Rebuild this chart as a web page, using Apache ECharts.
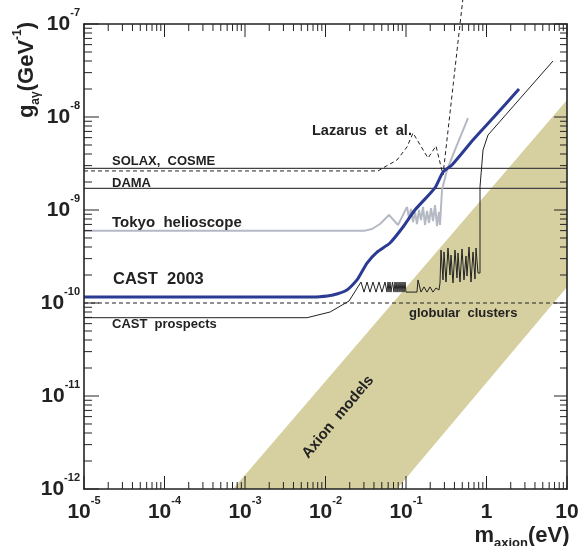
<!DOCTYPE html>
<html><head><meta charset="utf-8">
<script src="https://cdn.jsdelivr.net/npm/echarts@6/dist/echarts.min.js"></script>
<style>html,body{margin:0;padding:0;background:#fff}#c{width:586px;height:546px}</style>
</head><body><div id="c"></div>
<script>
// ---- axis ranges & ticks ----
const X_MIN = 1e-5, X_MAX = 10, Y_MIN = 1e-12, Y_MAX = 1e-7;
const xDecades = [1e-5, 1e-4, 1e-3, 1e-2, 1e-1, 1, 10];
const yDecades = [1e-12, 1e-11, 1e-10, 1e-9, 1e-8, 1e-7];
const minorMantissas = [2, 3, 4, 5, 6, 7, 8, 9];

// ---- limits (horizontal lines) ----
const solaxCosme = 2.8e-9;
const dama = 1.71e-9;
const globularClusters = 1.0e-10;

// ---- curves [m_axion (eV), g (GeV^-1)] ----
const lazarus = [[1e-5,2.63e-9],[0.045,2.63e-9],[0.0518,2.83e-9],[0.0773,3.45e-9],[0.1029,4.76e-9],[0.1222,6.73e-9],[0.1876,3.62e-9],[0.2359,4.88e-9],[0.2882,2.38e-9],[0.5135,2e-7]];
const tokyo = [[1e-5,6.0e-10],[0.031,6.0e-10],[0.0378,6.25e-10],[0.0475,7.07e-10],[0.0615,8.83e-10],[0.0796,6.9e-10],[0.1029,1.08e-9],[0.109,8.2e-10],[0.1154,1.025e-9],[0.1222,7.43e-10],[0.1294,9.52e-10],[0.1369,7.07e-10],[0.145,1.0e-9],[0.1536,7.81e-10],[0.1627,1.08e-9],[0.1722,6.9e-10],[0.1824,9.76e-10],[0.1931,7.25e-10],[0.2045,1.05e-9],[0.2165,7.61e-10],[0.2292,1.13e-9],[0.2427,6.73e-10],[0.257,9.52e-10],[0.2645,6.9e-10],[0.280,1.64e-9],[0.323,2.69e-9],[0.406,4.42e-9],[0.589,9.75e-9]];
const cast2003 = [[1e-5,1.16e-10],[0.0048,1.16e-10],[0.0085,1.17e-10],[0.0124,1.22e-10],[0.0185,1.38e-10],[0.0246,1.77e-10],[0.0328,2.69e-10],[0.0437,3.53e-10],[0.0633,4.42e-10],[0.0918,6.56e-10],[0.129,1.0e-9],[0.229,1.73e-9],[0.288,2.56e-9],[0.372,3.05e-9],[0.679,5.66e-9],[1.205,9.75e-9],[2.535,2.0e-8]];
const castProspects = [[1e-5,6.95e-11],[0.0059,6.95e-11],[0.0114,8.0e-11],[0.0196,1.05e-10],[0.0276,1.68e-10],[0.0301,1.31e-10],[0.0328,1.68e-10],[0.0357,1.31e-10],[0.0389,1.68e-10],[0.0424,1.31e-10],[0.0462,1.68e-10],[0.0503,1.31e-10],[0.0548,1.68e-10],[0.0581,1.31e-10],[0.0598,1.68e-10],[0.0615,1.31e-10],[0.0633,1.68e-10],[0.0651,1.31e-10],[0.0680,1.68e-10],[0.0709,1.31e-10],[0.0730,1.68e-10],[0.0751,1.31e-10],[0.0773,1.68e-10],[0.0795,1.31e-10],[0.0819,1.68e-10],[0.0842,1.31e-10],[0.0867,1.68e-10],[0.0892,1.31e-10],[0.0918,1.68e-10],[0.0945,1.31e-10],[0.0972,1.68e-10],[0.100,1.31e-10],[0.1369,1.31e-10],[0.1409,1.77e-10],[0.1536,1.31e-10],[0.1674,1.49e-10],[0.1824,1.31e-10],[0.1987,1.49e-10],[0.2165,1.31e-10],[0.2359,1.45e-10],[0.2570,1.38e-10],[0.2645,1.64e-10],[0.2722,3.71e-10],[0.2882,1.77e-10],[0.2965,3.54e-10],[0.3140,1.68e-10],[0.3324,3.90e-10],[0.3520,2.00e-10],[0.3622,3.28e-10],[0.3836,1.64e-10],[0.4062,3.71e-10],[0.4300,1.86e-10],[0.4426,3.45e-10],[0.4686,1.68e-10],[0.4962,3.81e-10],[0.5254,1.77e-10],[0.5562,3.20e-10],[0.5726,1.95e-10],[0.6063,4.00e-10],[0.6420,1.68e-10],[0.6797,3.54e-10],[0.7197,1.81e-10],[0.7406,3.90e-10],[0.7842,2.10e-10],[0.8304,2.10e-10],[0.8304,1.77e-9],[0.9048,4.42e-9],[1.044,6.4e-9],[6.70,4.0e-8]];
// Axion models band corners
const axionBand = [[7.1e-4,1e-12],[10,1.52e-8],[10,1.49e-10],[0.0773,1e-12]];

// ---- style ----
const FONT = '"Liberation Sans", Arial, Helvetica, sans-serif';
const INK = '#222';
const BAND = '#d6cf9f';

const xTickData = [], yTickData = [];
xDecades.forEach((d, i) => {
  xTickData.push([d, Y_MIN, 1]);
  if (i < xDecades.length - 1) minorMantissas.forEach(m => xTickData.push([d * m, Y_MIN, 0]));
});
yDecades.forEach((d, i) => {
  yTickData.push([X_MIN, d, 1]);
  if (i < yDecades.length - 1) minorMantissas.forEach(m => yTickData.push([X_MIN, d * m, 0]));
});

function powLabel(v) {
  const e = Math.round(Math.log10(v));
  if (e === 0) return '{b|1}';
  if (e === 1) return '{b|10}';
  return '{b|10}{e|' + e + '}';
}
const labelRich = {
  b: { fontSize: 21, fontWeight: 'bold', fontFamily: FONT, color: INK, lineHeight: 34 },
  e: { fontSize: 11, fontWeight: 'bold', fontFamily: FONT, color: INK, lineHeight: 12, verticalAlign: 'top' }
};

function hline(v, name, opts) {
  return Object.assign({
    type: 'line', name, data: [[X_MIN, v], [X_MAX, v]], symbol: 'none', silent: true,
    lineStyle: { color: '#444', width: 1.2 }, z: 3
  }, opts || {});
}

const chart = echarts.init(document.getElementById('c'), null, { renderer: 'canvas' });
const axisBase = { type: 'log', logBase: 10, splitLine: { show: false }, axisTick: { show: false } };
chart.setOption({
  animation: false,
  backgroundColor: '#fff',
  grid: { left: 84, right: 19, top: 24, bottom: 57, containLabel: false, outerBoundsMode: 'none' },
  xAxis: [
    Object.assign({}, axisBase, {
      min: X_MIN, max: X_MAX, splitNumber: 6, z: 10,
      axisLine: { show: true, lineStyle: { color: INK, width: 1.6 } },
      axisLabel: { margin: 6, formatter: powLabel, rich: labelRich }
    }),
    Object.assign({}, axisBase, {
      min: X_MIN, max: X_MAX, splitNumber: 6, position: 'top', z: 10,
      axisLine: { show: true, lineStyle: { color: INK, width: 1.6 } },
      axisLabel: { show: false }
    })
  ],
  yAxis: [
    Object.assign({}, axisBase, {
      min: Y_MIN, max: Y_MAX, splitNumber: 5, z: 10,
      axisLine: { show: true, lineStyle: { color: INK, width: 1.6 } },
      axisLabel: { margin: 4, formatter: powLabel, rich: labelRich }
    }),
    Object.assign({}, axisBase, {
      min: Y_MIN, max: Y_MAX, splitNumber: 5, position: 'right', z: 10,
      axisLine: { show: true, lineStyle: { color: INK, width: 1.6 } },
      axisLabel: { show: false }
    })
  ],
  series: [
    {
      type: 'custom', name: 'Axion models', silent: true, z: 1,
      data: [axionBand[0]],
      renderItem: (p, api) => ({
        type: 'polygon',
        shape: { points: axionBand.map(pt => api.coord(pt)) },
        style: { fill: BAND }
      })
    },
    hline(solaxCosme, 'SOLAX, COSME'),
    hline(dama, 'DAMA'),
    hline(globularClusters, 'globular clusters', { lineStyle: { color: INK, width: 1, type: [4, 3] } }),
    {
      type: 'line', name: 'Lazarus et al.', data: lazarus, symbol: 'none', silent: true, clip: false, z: 3,
      lineStyle: { color: INK, width: 1, type: [4, 3] }
    },
    {
      type: 'line', name: 'Tokyo helioscope', data: tokyo, symbol: 'none', silent: true, z: 3,
      lineStyle: { color: '#b4b9c3', width: 2 }
    },
    {
      type: 'line', name: 'CAST prospects', data: castProspects, symbol: 'none', silent: true, z: 4,
      lineStyle: { color: INK, width: 1 }
    },
    {
      type: 'line', name: 'CAST 2003', data: cast2003, symbol: 'none', silent: true, z: 5, smooth: 0.2,
      lineStyle: { color: '#2b3a92', width: 3 }
    },
    {
      type: 'custom', name: 'xticks', silent: true, z: 6, data: xTickData, encode: { x: 0, y: 1 }, clip: false,
      renderItem: (p, api) => {
        const v = api.value(0), major = api.value(2);
        const b = api.coord([v, Y_MIN]), t = api.coord([v, Y_MAX]);
        const len = major ? 13 : 7;
        const st = { stroke: INK, lineWidth: 1 };
        return { type: 'group', children: [
          { type: 'line', shape: { x1: b[0], y1: b[1], x2: b[0], y2: b[1] - len }, style: st },
          { type: 'line', shape: { x1: t[0], y1: t[1], x2: t[0], y2: t[1] + len }, style: st }
        ] };
      }
    },
    {
      type: 'custom', name: 'yticks', silent: true, z: 6, data: yTickData, encode: { x: 0, y: 1 }, clip: false,
      renderItem: (p, api) => {
        const v = api.value(1), major = api.value(2);
        const l = api.coord([X_MIN, v]), r = api.coord([X_MAX, v]);
        const ll = major ? 15 : 8, rl = major ? 13 : 7;
        const st = { stroke: INK, lineWidth: 1 };
        return { type: 'group', children: [
          { type: 'line', shape: { x1: l[0], y1: l[1], x2: l[0] + ll, y2: l[1] }, style: st },
          { type: 'line', shape: { x1: r[0], y1: r[1], x2: r[0] - rl, y2: r[1] }, style: st }
        ] };
      }
    }
  ],
  graphic: [
    { type: 'text', x: 112, y: 161, z: 20, style: { text: 'SOLAX,  COSME', fontSize: 13, fontWeight: 'bold', fontFamily: FONT, fill: INK, align: 'left', verticalAlign: 'middle' } },
    { type: 'text', x: 112, y: 183, z: 20, style: { text: 'DAMA', fontSize: 13, fontWeight: 'bold', fontFamily: FONT, fill: INK, align: 'left', verticalAlign: 'middle' } },
    { type: 'text', x: 112, y: 223, z: 20, style: { text: 'Tokyo  helioscope', fontSize: 15, fontWeight: 'bold', fontFamily: FONT, fill: INK, align: 'left', verticalAlign: 'middle' } },
    { type: 'text', x: 113, y: 279, z: 20, style: { text: 'CAST  2003', fontSize: 16.5, fontWeight: 'bold', fontFamily: FONT, fill: INK, align: 'left', verticalAlign: 'middle' } },
    { type: 'text', x: 112, y: 324, z: 20, style: { text: 'CAST  prospects', fontSize: 13, fontWeight: 'bold', fontFamily: FONT, fill: INK, align: 'left', verticalAlign: 'middle' } },
    { type: 'text', x: 312, y: 131, z: 20, style: { text: 'Lazarus  et  al.', fontSize: 14.5, fontWeight: 'bold', fontFamily: FONT, fill: INK, align: 'left', verticalAlign: 'middle' } },
    { type: 'text', x: 409, y: 313, z: 20, style: { text: 'globular  clusters', fontSize: 13, fontWeight: 'bold', fontFamily: FONT, fill: INK, align: 'left', verticalAlign: 'middle' } },
    { type: 'text', x: 338, y: 417, rotation: 50 * Math.PI / 180, z: 20, style: { text: 'Axion  models', fontSize: 15, fontWeight: 'bold', fontFamily: FONT, fill: INK, align: 'center', verticalAlign: 'middle' } },
    { type: 'text', x: 522, y: 536, z: 20, style: {
        text: '{b|m}{s|axion}{b|(eV)}', align: 'center', verticalAlign: 'middle',
        rich: {
          b: { fontSize: 22, fontWeight: 'bold', fontFamily: FONT, fill: INK, color: INK, lineHeight: 28 },
          s: { fontSize: 13, fontWeight: 'bold', fontFamily: FONT, fill: INK, color: INK, lineHeight: 12, verticalAlign: 'bottom' }
        } } },
    { type: 'text', x: 27, y: 70, rotation: Math.PI / 2, z: 20, style: {
        text: '{b|g}{s|aγ}{b|(GeV}{e|-1}{b|)}', align: 'center', verticalAlign: 'middle',
        rich: {
          b: { fontSize: 22, fontWeight: 'bold', fontFamily: FONT, fill: INK, color: INK, lineHeight: 30 },
          s: { fontSize: 12, fontWeight: 'bold', fontFamily: FONT, fill: INK, color: INK, lineHeight: 12, verticalAlign: 'bottom' },
          e: { fontSize: 12, fontWeight: 'bold', fontFamily: FONT, fill: INK, color: INK, lineHeight: 12, verticalAlign: 'top' }
        } } }
  ]
});
</script>
</body></html>
